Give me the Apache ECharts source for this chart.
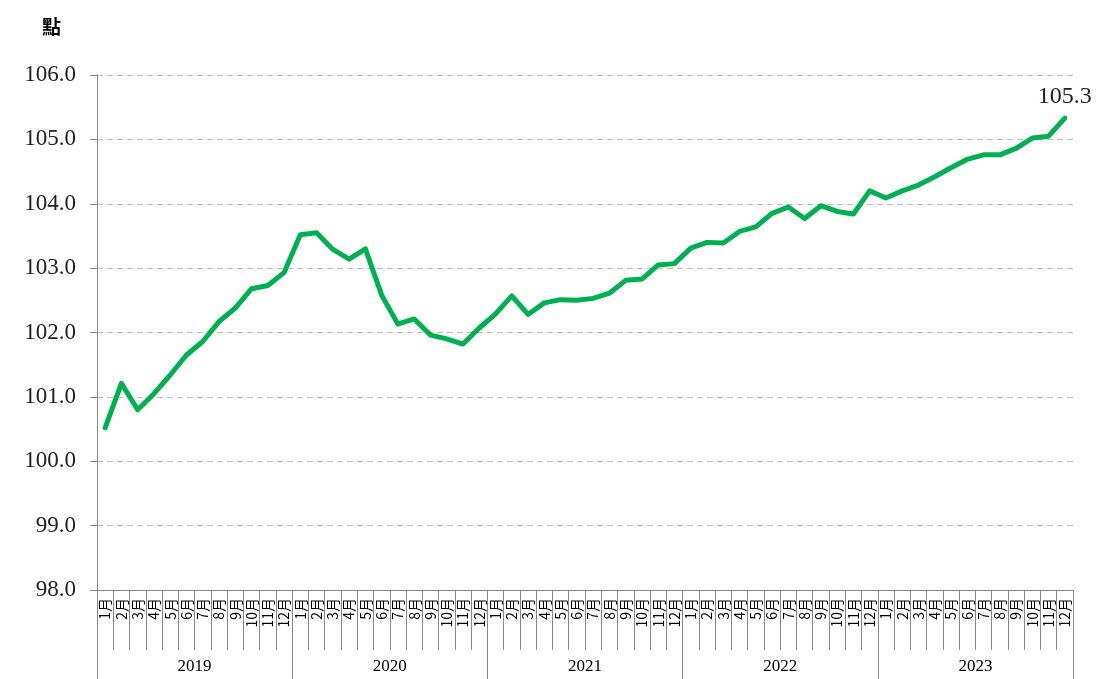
<!DOCTYPE html>
<html>
<head>
<meta charset="utf-8">
<script src="https://cdn.jsdelivr.net/npm/echarts@6/dist/echarts.min.js"></script>
<style>
  html, body { margin: 0; padding: 0; background: #fff; }
  #chart { width: 1110px; height: 679px; }
</style>
</head>
<body>
<div id="chart"></div>
<script>
// 年份與月份
const years = ['2019', '2020', '2021', '2022', '2023']
const monthNames = ['1月', '2月', '3月', '4月', '5月', '6月', '7月', '8月', '9月', '10月', '11月', '12月']

// 指數（點），依月份
const values2019 = [100.52, 101.21, 100.80, 101.05, 101.34, 101.65, 101.86, 102.17, 102.38, 102.68, 102.73, 102.93]
const values2020 = [103.52, 103.55, 103.29, 103.14, 103.30, 102.58, 102.13, 102.21, 101.96, 101.90, 101.82, 102.07]
const values2021 = [102.29, 102.57, 102.28, 102.46, 102.51, 102.50, 102.53, 102.61, 102.81, 102.83, 103.05, 103.07]
const values2022 = [103.31, 103.40, 103.39, 103.57, 103.64, 103.85, 103.95, 103.77, 103.97, 103.88, 103.84, 104.20]
const values2023 = [104.09, 104.20, 104.29, 104.42, 104.56, 104.69, 104.76, 104.76, 104.86, 105.02, 105.05, 105.33]

const yTicks = { min: 98, max: 106, interval: 1 }

const months = []
years.forEach(() => monthNames.forEach(m => months.push(m)))
const values = [].concat(values2019, values2020, values2021, values2022, values2023)

// 最後一點標數值
const seriesData = values.map((v, i) => {
  if (i === values.length - 1) {
    return {
      value: v,
      symbol: 'circle',
      symbolSize: 2,
      label: {
        show: true,
        position: 'top',
        distance: 8,
        formatter: p => p.value.toFixed(1),
        fontFamily: 'Liberation Serif',
        fontSize: 24,
        color: '#222'
      }
    }
  }
  return v
})

const chart = echarts.init(document.getElementById('chart'))
chart.setOption({
  animation: false,
  title: {
    text: '點',
    left: 37,
    top: 12,
    textStyle: { fontFamily: 'Noto Sans CJK TC', fontSize: 19, fontWeight: 'bold', color: '#000' }
  },
  grid: { left: 97, right: 37, top: 75, bottom: 89 },
  xAxis: [
    {
      type: 'category',
      data: months,
      boundaryGap: true,
      axisLine: { lineStyle: { color: '#888', width: 1 } },
      axisTick: { show: true, interval: 0, length: 60, lineStyle: { color: '#888' } },
      axisLabel: {
        interval: 0,
        rotate: 90,
        margin: 8,
        fontFamily: 'Noto Sans CJK TC',
        fontSize: 14,
        color: '#000'
      }
    },
    {
      type: 'category',
      data: years,
      position: 'bottom',
      boundaryGap: true,
      axisLine: { show: false },
      axisTick: { show: true, interval: 0, length: 90, lineStyle: { color: '#888' } },
      axisLabel: {
        interval: 0,
        margin: 68,
        fontFamily: 'Liberation Serif',
        fontSize: 17,
        color: '#000'
      }
    }
  ],
  yAxis: {
    type: 'value',
    min: yTicks.min,
    max: yTicks.max,
    interval: yTicks.interval,
    axisLine: { show: true, lineStyle: { color: '#888' } },
    axisTick: { show: true, length: 7, lineStyle: { color: '#888' } },
    axisLabel: {
      margin: 21,
      formatter: v => v.toFixed(1),
      fontFamily: 'Liberation Serif',
      fontSize: 23,
      color: '#222'
    },
    splitLine: { show: true, lineStyle: { color: '#bdbdbd', type: [6, 4], width: 1 } }
  },
  series: [
    {
      name: '點',
      type: 'line',
      xAxisIndex: 0,
      data: seriesData,
      showSymbol: true,
      symbol: 'none',
      lineStyle: { color: '#00B050', width: 5, join: 'round', cap: 'round' },
      itemStyle: { color: '#00B050' }
    }
  ]
})
</script>
</body>
</html>
